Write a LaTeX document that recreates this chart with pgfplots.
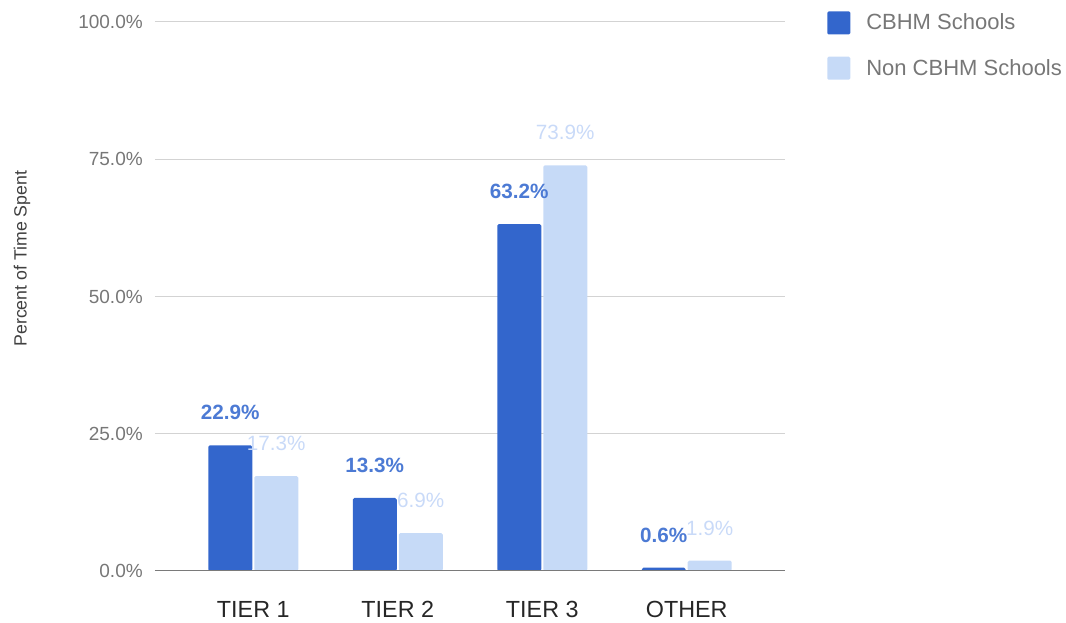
\documentclass[border=0pt]{standalone}
\usepackage{pgfplots}
\pgfplotsset{compat=1.18}
\usepackage{fontspec}
\setmainfont{Liberation Sans}
\definecolor{cbdark}{HTML}{3366CC}
\definecolor{cblight}{HTML}{C6DAF7}
\definecolor{lbldark}{HTML}{4C7AD4}
\definecolor{lbllight}{HTML}{C9DAF8}
\definecolor{gridc}{HTML}{D3D3D3}
\definecolor{tickc}{HTML}{777777}
\definecolor{basec}{HTML}{7A7A7A}
\begin{document}
\begin{tikzpicture}
\useasboundingbox (-116.25pt,-39pt) rectangle (683.25pt,428.25pt);
\begin{axis}[
  scale only axis, width=472.5pt, height=411.75pt,
  xmin=-0.68, xmax=3.68, ymin=0, ymax=100,
  /pgf/number format/assume math mode=true,
  axis line style={draw=none},
  major tick length=0pt,
  ytick={0,25,50,75,100},
  yticklabel={\pgfmathprintnumber[fixed,fixed zerofill,precision=1]{\tick}\%},
  yticklabel style={anchor=east, inner sep=0pt, xshift=-9pt, font=\fontsize{14.25}{16}\selectfont, text=tickc},
  ymajorgrids, grid style={gridc, line width=0.75pt},
  xtick={0,1,2,3}, xticklabels={TIER 1,TIER 2,TIER 3,OTHER},
  xticklabel style={anchor=center, inner sep=0pt, yshift=-28.5pt, font=\fontsize{17.5}{20}\selectfont, text=black!85},
  ylabel={Percent of Time Spent},
  ylabel style={at={(axis description cs:-0.211,0.569)}, anchor=center, font=\fontsize{13.3}{15}\selectfont, text=black!75},
  ybar=1.5pt, bar width=33pt,
  nodes near coords={\pgfmathprintnumber[fixed,fixed zerofill,precision=1]{\pgfplotspointmeta}\%},
  legend style={at={(rel axis cs:1.0667,1.02)}, anchor=north west, draw=none, fill=none, inner sep=0pt,
    font=\fontsize{16.5}{19}\selectfont, text=tickc, row sep=16.5pt,
    /tikz/every odd column/.append style={column sep=10pt}},
  legend cell align=left,
]
\addplot+[fill=cbdark, draw=none, rounded corners=1.2pt,
  every node near coord/.append style={anchor=center, yshift=24.5pt, text=lbldark, font=\bfseries\fontsize{15.5}{17}\selectfont},
  legend image code/.code={\fill[cbdark, rounded corners=1pt] (0pt,-8.6pt) rectangle (17.25pt,8.6pt);}]
  coordinates {(0,22.9) (1,13.3) (2,63.2) (3,0.6)};
\addlegendentry{CBHM Schools}
\addplot+[fill=cblight, draw=none, rounded corners=1.2pt,
  every node near coord/.append style={anchor=center, yshift=24.5pt, text=lbllight, font=\fontsize{15.5}{17}\selectfont},
  legend image code/.code={\fill[cblight, rounded corners=1pt] (0pt,-8.6pt) rectangle (17.25pt,8.6pt);}]
  coordinates {(0,17.3) (1,6.9) (2,73.9) (3,1.9)};
\addlegendentry{Non CBHM Schools}
\draw[basec, line width=2.2pt] (axis cs:-0.68,0) -- (axis cs:3.68,0);
\end{axis}
\end{tikzpicture}
\end{document}
